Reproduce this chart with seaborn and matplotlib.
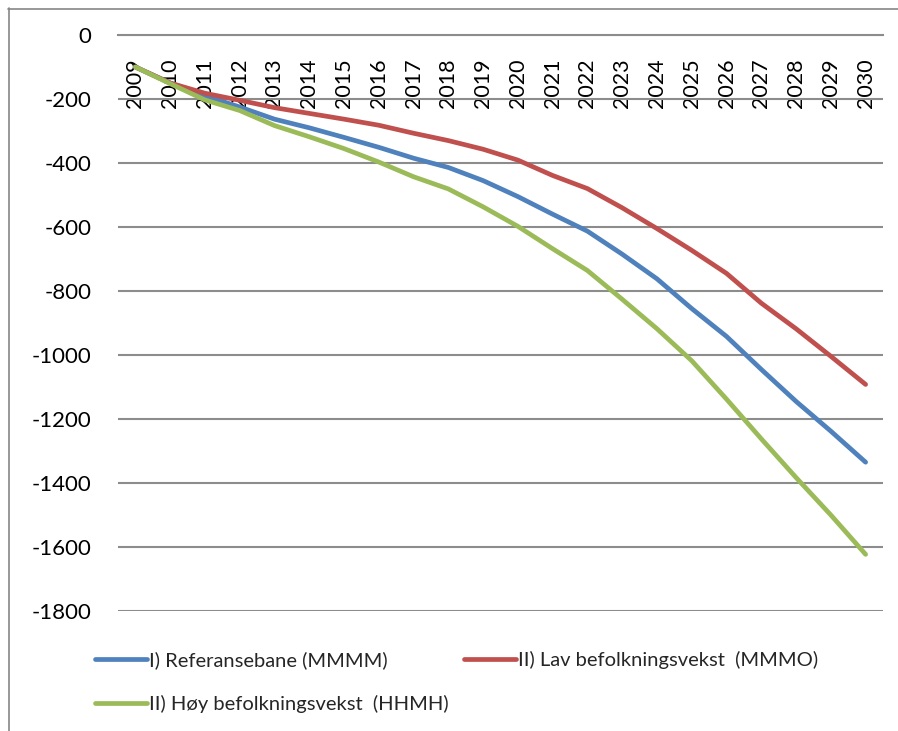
import matplotlib
matplotlib.use("Agg")
import matplotlib.pyplot as plt
from matplotlib.lines import Line2D
import pandas as pd
import seaborn as sns

# Årlige verdier per scenario
years = list(range(2009, 2031))
referanse = [-100, -150, -190, -225, -263, -290, -320, -351, -385, -414, -455,
             -505, -560, -613, -685, -762, -855, -942, -1045, -1145, -1238, -1335]
lav = [-100, -150, -182, -204, -227, -245, -263, -282, -307, -330, -357,
       -391, -439, -480, -540, -605, -673, -745, -838, -918, -1004, -1092]
hoy = [-100, -152, -203, -236, -283, -318, -355, -397, -443, -481, -537,
       -598, -668, -736, -826, -918, -1018, -1138, -1262, -1383, -1500, -1623]

series_names = ["I) Referansebane (MMMM)",
                "II) Lav befolkningsvekst  (MMMO)",
                "II) Høy befolkningsvekst  (HHMH)"]
series_colors = ["#4F81BD", "#C0504D", "#9BBB59"]
y_ticks = list(range(0, -1801, -200))

df = pd.DataFrame({
    "år": years * 3,
    "verdi": referanse + lav + hoy,
    "scenario": sum([[n] * len(years) for n in series_names], []),
})

sns.set_theme(style="white")
plt.rcParams["font.family"] = ["Lato", "DejaVu Sans"]

W, H = 898, 731
fig = plt.figure(figsize=(W / 100, H / 100), dpi=100)
ax = fig.add_axes([118 / W, 1 - 611 / H, (883 - 118) / W, (611 - 35) / H])

sns.lineplot(data=df, x="år", y="verdi", hue="scenario",
             palette=dict(zip(series_names, series_colors)),
             hue_order=series_names, linewidth=3.4, ax=ax, legend=False,
             solid_capstyle="round")

# Kategoriaksen ligger ved null
for s in ["left", "right", "top"]:
    ax.spines[s].set_visible(False)
ax.spines["bottom"].set_position(("data", 0))
ax.spines["bottom"].set_color("#8C8C8C")
ax.spines["bottom"].set_linewidth(1.5)

ax.set_xlim(years[0] - 0.5, years[-1] + 0.5)
ax.set_ylim(-1800, 0)
ax.set_yticks(y_ticks)
ax.set_yticklabels([str(v) for v in y_ticks])
ax.set_xticks(years)
ax.set_xticklabels([str(y) for y in years])
ax.set_xlabel("")
ax.set_ylabel("")

ax.yaxis.grid(True, color="#8C8C8C", linewidth=1.5)
ax.xaxis.grid(False)
ax.set_axisbelow(True)
ax.tick_params(axis="y", length=0, pad=19, labelsize=16, colors="black")
ax.tick_params(axis="x", length=0, pad=17, labelsize=15.5, colors="black",
               labelrotation=90)
for lab in ax.get_xticklabels():
    lab.set_verticalalignment("top")

# Tegnflatens ramme
fig.add_artist(Line2D([8.5 / W, 8.5 / W], [0, 1 - 8 / H], transform=fig.transFigure,
                      color="#868686", linewidth=1.2))
fig.add_artist(Line2D([8 / W, 1], [1 - 8.5 / H, 1 - 8.5 / H], transform=fig.transFigure,
                      color="#868686", linewidth=1.2))

handles = [Line2D([], [], color=c, linewidth=3.4) for c in series_colors]
order = [0, 2, 1]
fig.legend([handles[i] for i in order], [series_names[i] for i in order],
           ncol=2, loc="upper left", bbox_to_anchor=(95 / W, 1 - 651 / H),
           frameon=False, fontsize=14.5, handlelength=2.6, handletextpad=0.1,
           columnspacing=0.75, labelspacing=1.3, borderpad=0, borderaxespad=0)

fig.savefig("out.png", dpi=100, facecolor="white")
